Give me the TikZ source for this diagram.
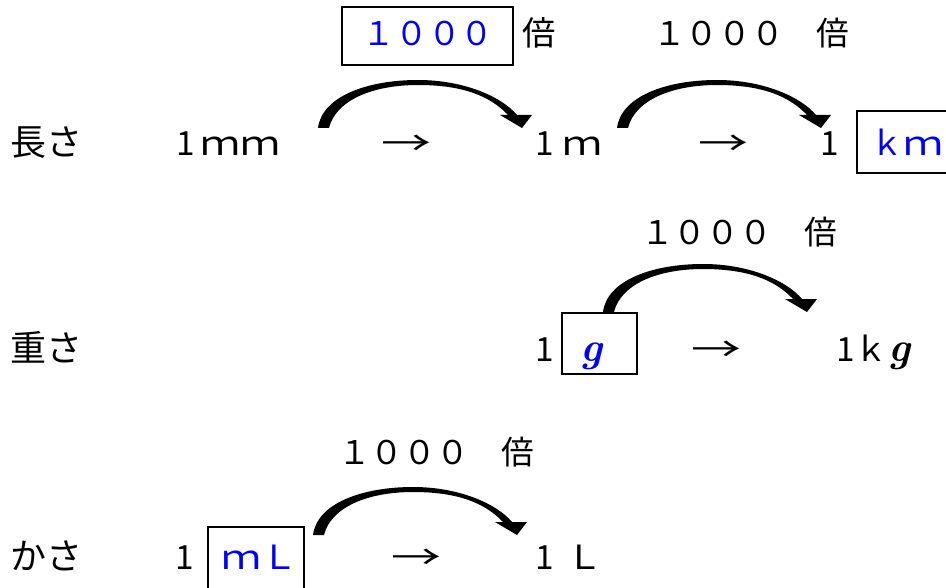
\documentclass[tikz,border=0pt]{standalone}
\usepackage{graphicx}
\usepackage{fontspec}
\setmainfont{Noto Sans CJK JP}
\newfontfamily\gfont{Latin Modern Roman}
\newcommand\wideM{\scalebox{1.2}[1]{ｍ}}
\newcommand\wideL{\scalebox{1.1}[1]{Ｌ}}
\newcommand\wideArr{\scalebox{1.5}[1]{→}}
\newcommand\gsym{{\gfont\fontsize{31}{34}\selectfont\bfseries\itshape g}}
\begin{document}
\begin{tikzpicture}[x=0.75pt,y=-0.75pt,
  txt/.style={inner sep=0pt,anchor=base west,font=\fontsize{25}{30}\selectfont},
  lbl/.style={txt,font=\fontsize{27}{30}\selectfont},
  num/.style={txt,font=\fontsize{24.5}{30}\selectfont},
  blue/.style={text={rgb,255:red,0;green,0;blue,255}},
  ansbox/.style={draw=black,line width=0.8pt},
  curvearrow/.pic={
    \fill[black] (0,0) .. controls (4,-32) and (50,-48) .. (100,-48)
      .. controls (148,-48) and (185,-30) .. (199,-13) -- (214,-13) -- (204,0) -- (182,-13) -- (190,-13)
      .. controls (172,-32) and (145,-43) .. (100,-43)
      .. controls (55,-43) and (18,-28) .. (11,0) -- cycle;
  }]
\useasboundingbox (0,0) rectangle (946,588);
\clip (0,0) rectangle (946,588);
% row 1
\node[lbl] (len) at (10,156) {長さ};
\node[txt] (mm1) at (176,156) {1};
\node[txt] (mm2) at (200,156) {\wideM\wideM};
\node[txt] (ar1) at (381,156) {\wideArr};
\node[txt] (m1) at (535,156) {1};
\node[txt] (m2) at (562,156) {\wideM};
\node[txt] (ar2) at (698,156) {\wideArr};
\node[txt] (one3) at (820,156) {1};
\draw[ansbox] (857,111) rectangle (960,173);
\node[txt,blue] (km) at (870,156) {ｋ\wideM};
\draw[ansbox] (342,7) rectangle (513,65);
\node[num,blue,anchor=base] (k1) at (428,46) {１０００};
\node[txt] (bai1) at (522,46) {倍};
\node[num] (k2) at (653,46) {１０００　倍};
\pic at (318,128) {curvearrow};
\pic at (617,128) {curvearrow};
% row 2
\node[lbl] (wt) at (10,361) {重さ};
\node[txt] (g1) at (535,361) {1};
\draw[ansbox] (562,313) rectangle (637,374);
\node[txt,blue] (g) at (580,361) {\gsym};
\node[txt] (ar3) at (691,361) {\wideArr};
\node[txt] (kg) at (836,361) {1ｋ\gsym};
\node[num] (k3) at (641,244) {１０００　倍};
\pic at (603,312) {curvearrow};
% row 3
\node[lbl] (vol) at (10,569) {かさ};
\node[txt] (one4) at (175,569) {1};
\draw[ansbox] (208,527) rectangle (304,592);
\node[txt,blue] (ml) at (221,569) {\wideM\wideL};
\node[txt] (ar4) at (391,569) {\wideArr};
\node[txt] (l1) at (535,569) {1};
\node[txt] (l2) at (566,569) {\wideL};
\node[num] (k4) at (338,464) {１０００　倍};
\pic at (313,535) {curvearrow};
\end{tikzpicture}
\end{document}
